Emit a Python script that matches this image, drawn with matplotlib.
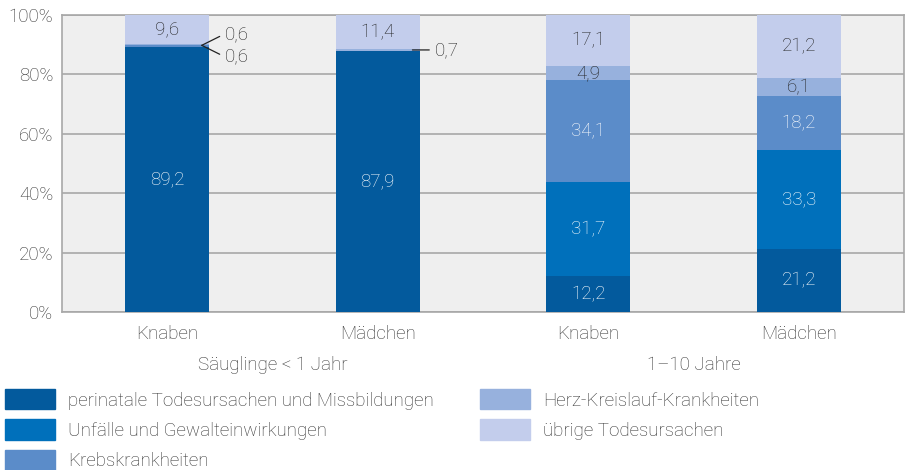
import matplotlib
matplotlib.use("Agg")
import matplotlib.pyplot as plt
import numpy as np

plt.rcParams['font.family'] = ['Roboto', 'DejaVu Sans']
plt.rcParams['font.weight'] = 'light'

# categories
bars = ["Knaben", "Mädchen", "Knaben", "Mädchen"]
groups = ["Säuglinge < 1 Jahr", "1–10 Jahre"]

# series values (percent)
perinatal = [89.2, 87.9, 12.2, 21.2]
unfaelle = [0.0, 0.0, 31.7, 33.3]
krebs = [0.6, 0.0, 34.1, 18.2]
herz = [0.6, 0.7, 4.9, 6.1]
uebrige = [9.6, 11.4, 17.1, 21.2]

series = [
    ("perinatale Todesursachen und Missbildungen", perinatal, "#035a9d", "white"),
    ("Unfälle und Gewalteinwirkungen", unfaelle, "#0070bb", "white"),
    ("Krebskrankheiten", krebs, "#5b8cc9", "white"),
    ("Herz-Kreislauf-Krankheiten", herz, "#97b1dd", "#222222"),
    ("übrige Todesursachen", uebrige, "#c3cdec", "#222222"),
]
FS = 13.5
TXT = "#333333"

fig = plt.figure(figsize=(9.07, 4.70), dpi=100)
ax = fig.add_axes([0.068, 0.336, 0.929, 0.632])
ax.set_facecolor("#efefef")

x = np.arange(len(bars))
w = 0.4
bottom = np.zeros(len(bars))
for name, vals, col, tcol in series:
    v = np.array(vals)
    ax.bar(x, v, w, bottom=bottom, color=col, zorder=3)
    for i in range(len(bars)):
        if v[i] >= 3:
            ax.text(x[i], bottom[i] + v[i] / 2, f"{v[i]:.1f}".replace(".", ","),
                    ha="center", va="center", color=tcol, fontsize=FS, zorder=4)
    bottom += v


def fmt(v):
    return f"{v:.1f}".replace(".", ",")


# small segments: labels beside the bar with leader lines
line = dict(arrowstyle="-", color="#222222", lw=0.9, shrinkA=0, shrinkB=0)
b1 = perinatal[0] + krebs[0]
x0 = x[0] + w / 2
for val, dy in [(krebs[0], 3.0), (herz[0], -3.0)]:
    ax.annotate("", xy=(x0 - 0.035, b1), xytext=(x0 + 0.05, b1 + dy),
                arrowprops=line, zorder=5)
    ax.text(x0 + 0.075, b1 + dy * 1.25, fmt(val), ha="left", va="center",
            fontsize=FS, color="#222222", zorder=5)
b2 = perinatal[1] + herz[1] / 2
x1 = x[1] + w / 2
ax.annotate("", xy=(x1 - 0.035, b2), xytext=(x1 + 0.045, b2), arrowprops=line, zorder=5)
ax.text(x1 + 0.07, b2, fmt(herz[1]), ha="left", va="center",
        fontsize=FS, color="#222222", zorder=5)

ax.set_xlim(-0.5, 3.5)
ax.set_ylim(0, 100)
ax.set_yticks(np.arange(0, 101, 20))
ax.set_yticklabels([f"{t}%" for t in range(0, 101, 20)], fontsize=FS, color=TXT)
ax.set_xticks(x)
ax.set_xticklabels(bars, fontsize=FS, color=TXT)
ax.tick_params(axis="x", length=0, pad=9)
ax.tick_params(axis="y", length=0, pad=6)
ax.yaxis.grid(True, color="#a8a8a8", lw=1.2, zorder=0)
for s in ax.spines.values():
    s.set_color("#a8a8a8")
    s.set_linewidth(1.2)

for gi, g in enumerate(groups):
    ax.text(gi * 2 + 0.5, -17.8, g, ha="center", va="center", fontsize=FS,
            color=TXT, clip_on=False)

handles = [plt.Rectangle((0, 0), 1, 1, color=c) for _, _, c, _ in series]
labels = [n for n, _, _, _ in series]
fig.legend(handles, labels, loc="upper left", bbox_to_anchor=(5 / 907, 1 - 389 / 470), ncol=2,
           frameon=False, fontsize=FS, handlelength=2.67, handleheight=1.3,
           handletextpad=0.7, columnspacing=2.45, labelspacing=0.53, labelcolor=TXT,
           borderpad=0, borderaxespad=0)

fig.savefig("out.png", dpi=100)
